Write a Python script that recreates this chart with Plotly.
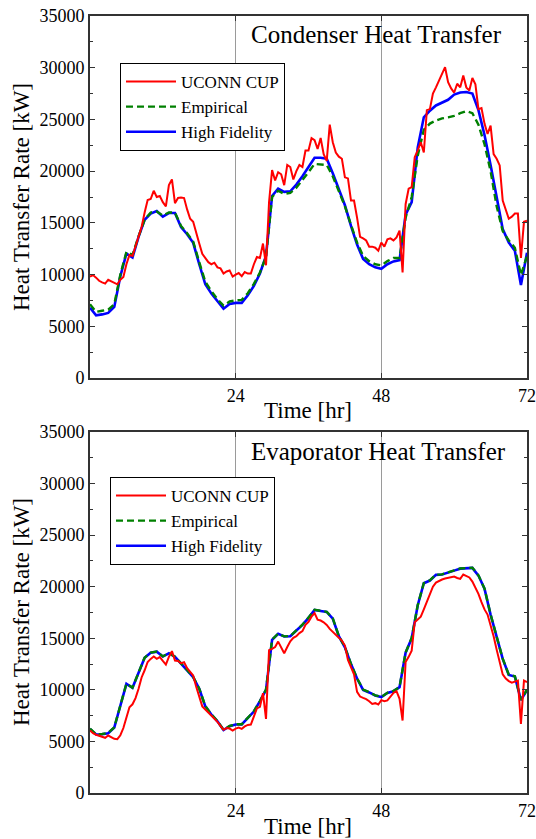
import numpy as np
import plotly.graph_objects as go

# ---------------- data ----------------
t_half = [i * 0.5 for i in range(145)]   # 0 .. 72 hr, half-hour
t_hour = list(range(73))                 # 0 .. 72 hr, hourly

cond_uconn = [
    9800, 9950, 9700, 9400, 9250, 9130, 9500, 9350, 9200, 9060, 9500, 9770,
    11000, 11900, 11800, 12800, 13800, 14600, 16000, 17200, 17300, 18100, 17500, 17600,
    17000, 16600, 18650, 19200, 16900, 17400, 17450, 17400, 16300, 15400, 15100, 13900,
    13000, 12000, 11600, 11200, 11000, 11150, 10700, 10600, 10100, 10300, 10400, 9800,
    10000, 10150, 9850, 10250, 10100, 10100, 11000, 11700, 11600, 13000, 10900, 17000,
    20100, 19100, 19900, 19700, 18650, 20600, 20400, 19200, 20000, 20600, 20400, 22000,
    22000, 23200, 23000, 22150, 23200, 21650, 21000, 24500, 22800, 21800, 21400, 21200,
    19400, 19300, 17150, 17150, 15500, 13650, 13500, 13300, 12700, 12700, 12600, 12300,
    13100, 12700, 13400, 13500, 13300, 13600, 14250, 10200, 16800, 18300, 18450, 21350,
    22000, 22800, 21800, 25900, 26000, 27500, 28100, 28800, 29400, 30050, 28600, 28000,
    27600, 28450, 28100, 29250, 28100, 27800, 29000, 28400, 26000, 26100, 24600, 23600,
    24400, 21650, 21200, 20550, 17150, 16200, 15400, 15600, 15900, 15900, 11600, 15100,
    15200,
]
cond_empirical = [
    7130, 6390, 6500, 6600, 7130, 10000, 12200, 11900, 13700, 15300, 16000, 16100,
    15700, 16000, 16000, 14700, 14000, 13200, 11200, 9300, 8400, 7600, 7000, 7400,
    7500, 7550, 8200, 9100, 10200, 11700, 17500, 18100, 17800, 17900, 18400, 19100,
    19900, 20700, 20650, 20600, 19500, 18100, 16600, 14800, 13100, 11800, 11300, 11000,
    10900, 11300, 11600, 11600, 15500, 17500, 21500, 24000, 24600, 24900, 25100, 25200,
    25350, 25600, 25800, 25600, 24500, 22600, 20000, 16600, 14200, 13300, 12600, 9960, 11800,
]
cond_hifi = [
    6800, 6060, 6150, 6290, 6870, 9840, 12030, 11650, 13650, 15300, 15900, 16150,
    15600, 15950, 15950, 14600, 13900, 13070, 11000, 9060, 8160, 7400, 6700, 7150,
    7260, 7260, 8000, 8900, 10100, 11800, 17600, 18300, 18000, 18050, 18700, 19500,
    20400, 21300, 21300, 21200, 19800, 18300, 16700, 14700, 12900, 11500, 11000, 10700,
    10550, 11000, 11270, 11400, 15800, 17000, 22300, 25200, 25850, 26350, 26600, 26900,
    27400, 27600, 27650, 27500, 25900, 23500, 20600, 17300, 14400, 13100, 12300, 9000, 12100,
]

evap_uconn = [
    6060, 5800, 5650, 5550, 5450, 5350, 5570, 5400, 5250, 5220, 5600, 6300,
    7200, 8320, 8600, 9200, 10100, 11200, 11900, 12700, 13000, 13230, 13000, 13170,
    12800, 12450, 13200, 13750, 12840, 12800, 12580, 12680, 12100, 11700, 11390, 10300,
    9300, 8400, 8100, 7800, 7550, 7300, 6900, 6500, 6130, 6300, 6250, 6060,
    6250, 6350, 6220, 6450, 6600, 6640, 7400, 8200, 8350, 9680, 7190, 13850,
    13970, 14150, 14680, 14100, 13550, 14150, 14700, 15050, 15200, 15500, 15700, 16300,
    16600, 17100, 17450, 16800, 16720, 16550, 16300, 15910, 15600, 15300, 15050, 14780,
    14300, 12900, 12200, 11500, 9800, 9350, 9220, 9100, 8900, 8640, 8710, 8580,
    9000, 8900, 8970, 9400, 9700, 9870, 9130, 7030, 12700, 13200, 13800, 16560,
    16800, 17100, 17800, 18500, 19300, 20000, 20400, 20580, 20700, 20800, 20850, 20950,
    20980, 20850, 20760, 21180, 21050, 20900, 20500, 19900, 19300, 18500, 17800, 17300,
    16300, 15200, 13900, 12700, 11500, 11100, 10850, 10700, 10800, 10900, 6700, 10900,
    10740,
]
evap_empirical = [
    6240, 5690, 5720, 5820, 6370, 8520, 10600, 10220, 11770, 13120, 13620, 13720,
    13250, 13570, 13220, 12520, 11920, 11250, 10120, 8420, 7630, 6970, 6120, 6500,
    6660, 6660, 7320, 7920, 8920, 10020, 14870, 15450, 15190, 15220, 15770, 16320,
    17000, 17770, 17670, 17570, 16920, 15220, 14150, 12520, 11120, 10020, 9770, 9470,
    9320, 9720, 9890, 10280, 13620, 15020, 18220, 20360, 20620, 21170, 21200, 21420,
    21580, 21770, 21840, 21840, 21100, 19820, 17320, 15120, 13020, 11470, 11320, 9020, 10020,
]
evap_hifi = [
    6220, 5670, 5700, 5800, 6350, 8500, 10580, 10200, 11750, 13100, 13600, 13700,
    13230, 13550, 13200, 12500, 11900, 11230, 10100, 8400, 7610, 6950, 6100, 6480,
    6640, 6640, 7300, 7900, 8900, 10000, 14850, 15430, 15170, 15200, 15750, 16300,
    16980, 17750, 17650, 17550, 16900, 15200, 14130, 12500, 11100, 10000, 9750, 9450,
    9300, 9700, 9870, 10260, 13600, 15000, 18200, 20340, 20600, 21150, 21180, 21400,
    21560, 21750, 21820, 21820, 21080, 19800, 17300, 15100, 13000, 11450, 11300, 9000, 10000,
]

x_ticks = [24, 48, 72]
x_labels = ["24", "48", "72"]
y_ticks = [0, 5000, 10000, 15000, 20000, 25000, 30000, 35000]
y_labels = ["0", "5000", "10000", "15000", "20000", "25000", "30000", "35000"]
titles = ["Condenser Heat Transfer", "Evaporator Heat Transfer"]
names = ["UCONN CUP", "Empirical", "High Fidelity"]

# ---------------- figure ----------------
W, H = 536, 839
L, R = 90, 9
FONT = "Liberation Serif"
RED, GREEN, BLUE = "#ff0000", "#008000", "#0000ff"

fig = go.Figure()

panels = [
    (cond_uconn, cond_empirical, cond_hifi, "x", "y", "legend"),
    (evap_uconn, evap_empirical, evap_hifi, "x2", "y2", "legend2"),
]
for ucon, emp, hifi, xa, ya, lg in panels:
    fig.add_trace(go.Scatter(x=t_hour, y=hifi, name=names[2], mode="lines",
                             line=dict(color=BLUE, width=2.6), xaxis=xa, yaxis=ya,
                             legend=lg, legendrank=3))
    fig.add_trace(go.Scatter(x=t_hour, y=emp, name=names[1], mode="lines",
                             line=dict(color=GREEN, width=2.4, dash="7px,4px"),
                             xaxis=xa, yaxis=ya, legend=lg, legendrank=2))
    fig.add_trace(go.Scatter(x=t_half, y=ucon, name=names[0], mode="lines",
                             line=dict(color=RED, width=2.0), xaxis=xa, yaxis=ya,
                             legend=lg, legendrank=1))

# pixel geometry of plot areas
top_px = (16, 378)
bot_px = (432, 793)
def dom(p):
    return [1 - p[1] / H, 1 - p[0] / H]

xcommon = dict(range=[0, 72], tickvals=x_ticks, ticktext=x_labels, ticks="inside",
               ticklen=5, tickcolor="#333", showgrid=True, gridcolor="#9a9a9a",
               gridwidth=1, showline=True, linecolor="#333", linewidth=2,
               mirror="ticks", zeroline=False,
               tickfont=dict(family=FONT, size=18, color="black"), automargin=False)
ycommon = dict(range=[0, 35000], tickvals=y_ticks, ticktext=y_labels, ticks="inside",
               ticklen=5, tickcolor="#333", showgrid=False, showline=True,
               linecolor="#333", linewidth=2, mirror="ticks", zeroline=False,
               minor=dict(dtick=2500, ticks="inside", ticklen=3, tickcolor="#333"),
               tickfont=dict(family=FONT, size=18, color="black"), automargin=False)

fig.update_layout(
    width=W, height=H,
    margin=dict(l=L, r=R, t=0, b=0),
    font=dict(family=FONT, color="black"),
    paper_bgcolor="white", plot_bgcolor="white",
    showlegend=True,
    xaxis=dict(domain=[0, 1], anchor="y", **xcommon),
    yaxis=dict(domain=dom(top_px), anchor="x", **ycommon),
    xaxis2=dict(domain=[0, 1], anchor="y2", **xcommon),
    yaxis2=dict(domain=dom(bot_px), anchor="x2", **ycommon),
    legend=dict(x=(120 - L) / (W - L - R), y=1 - 63 / H, xanchor="left", yanchor="top",
                bgcolor="white", bordercolor="black", borderwidth=1,
                font=dict(family=FONT, size=17, color="black"), itemwidth=50,
                traceorder="normal", tracegroupgap=0),
    legend2=dict(x=(110 - L) / (W - L - R), y=1 - 477 / H, xanchor="left", yanchor="top",
                 bgcolor="white", bordercolor="black", borderwidth=1,
                 font=dict(family=FONT, size=17, color="black"), itemwidth=50,
                 traceorder="normal", tracegroupgap=0),
)

pw = W - L - R
def px_x(x):
    return (x - L) / pw
def px_y(y):
    return 1 - y / H

ann = []
ann.append(dict(text=titles[0], x=px_x(376), y=px_y(35)))
ann.append(dict(text=titles[1], x=px_x(378), y=px_y(451)))
for a in ann:
    a.update(xref="paper", yref="paper", showarrow=False, xanchor="center",
             yanchor="middle", font=dict(family=FONT, size=25, color="black"))
axis_ann = [
    dict(text="Time [hr]", x=px_x(308), y=px_y(410)),
    dict(text="Time [hr]", x=px_x(308), y=px_y(826)),
    dict(text="Heat Transfer Rate [kW]", x=px_x(21), y=px_y(197), textangle=-90),
    dict(text="Heat Transfer Rate [kW]", x=px_x(21), y=px_y(612), textangle=-90),
]
for a in axis_ann:
    a.update(xref="paper", yref="paper", showarrow=False, xanchor="center",
             yanchor="middle", font=dict(family=FONT, size=23, color="black"))
fig.update_layout(annotations=ann + axis_ann)

fig.write_html("out.html")
